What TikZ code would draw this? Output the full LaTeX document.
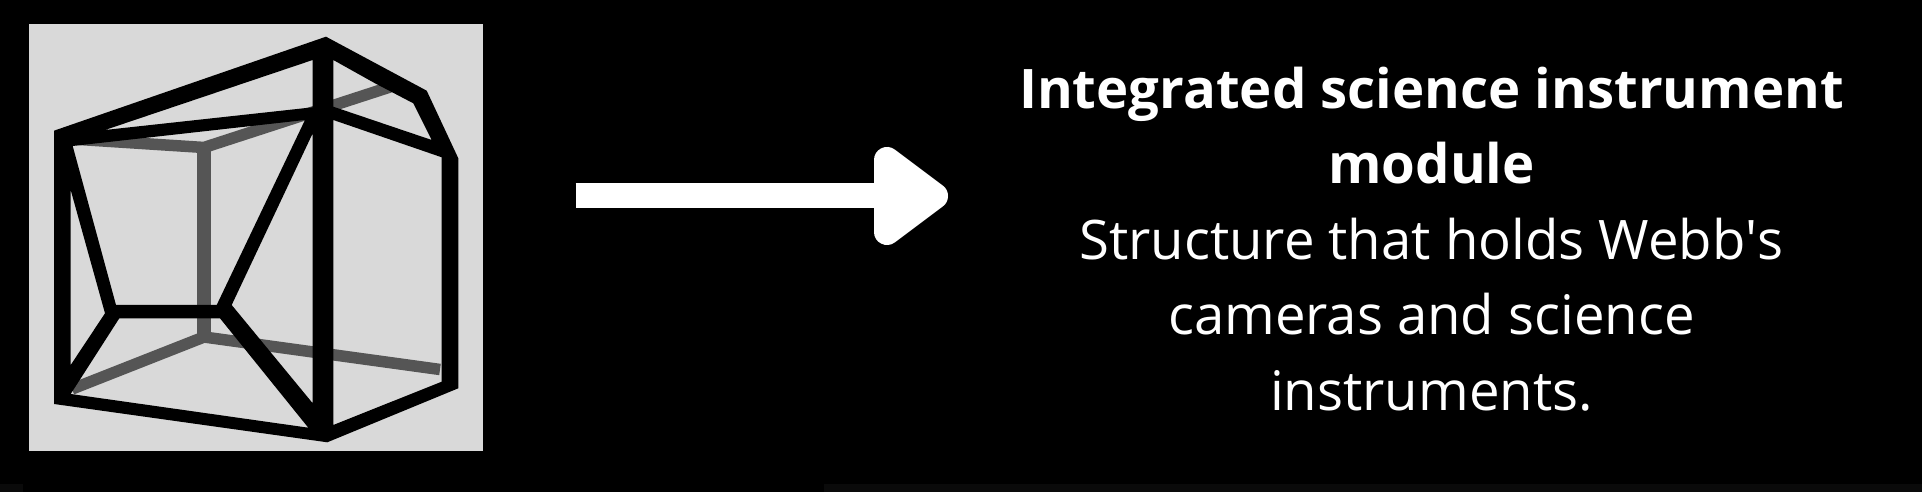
\documentclass[tikz,border=0pt]{standalone}
\usepackage{fontspec}
\setmainfont{Open Sans}
\definecolor{panelgray}{HTML}{D9D9D9}
\definecolor{rearbar}{HTML}{555555}
\definecolor{stripgray}{HTML}{0A0A0A}
\tikzset{
  rearstrut/.style={draw=rearbar, line width=0.115cm},
  arrowshaft/.style={draw=white, line width=0.25cm},
  arrowhead/.style={fill=white, draw=white, line width=0.26cm, line join=round},
  caption/.style={text=white, align=center, inner sep=0pt, font=\fontsize{15.5}{21.5}\selectfont}
}
\begin{document}
\begin{tikzpicture}[x=0.01cm,y=-0.01cm]
  \useasboundingbox (0,0) rectangle (1922,492);
  \fill[black] (0,0) rectangle (1922,492);
  \fill[stripgray] (0,484) rectangle (23,492);
  \fill[stripgray] (824,484) rectangle (1922,492);
  % panel
  \fill[panelgray] (28.5,24.5) rectangle (482.5,451);
  % rear edges
  \draw[rearstrut, line join=miter] (72,139) -- (204,147.5) -- (390,87);
  \draw[rearstrut, line width=0.14cm] (204,147.5) -- (204,337);
  \draw[rearstrut] (72,389) -- (204,337) -- (440,369.5);
  % front frame, the holes are cut out even-odd
  \fill[black, even odd rule]
    (54,130.7) -- (326,36.7) -- (426.7,90.7) -- (458.3,158.3) -- (458.3,388.3) -- (327.3,442.3) -- (54,404) -- cycle
    (105,130) -- (312.7,60) -- (312.7,107.3) -- cycle
    (333.3,60) -- (375,83.3) -- (413.3,103.3) -- (431.7,140) -- (333.3,106.7) -- cycle
    (72.7,146) -- (305,120) -- (216.7,305) -- (116,305) -- cycle
    (312.7,133.3) -- (312.7,403.3) -- (231.7,305) -- cycle
    (333.3,120) -- (441.7,157.3) -- (441.7,381.7) -- (333.3,425) -- cycle
    (70.7,190) -- (105,313.3) -- (70.7,365) -- cycle
    (119.3,318.3) -- (220,318.3) -- (308.3,427.7) -- (70.7,394) -- cycle;
  % arrow
  \coordinate (shaftstart) at (575.7,196);
  \coordinate (shaftend) at (880,196);
  \draw[arrowshaft] (shaftstart) -- (shaftend);
  \fill[arrowhead] (887,160) -- (935,196) -- (887,232) -- cycle;
  % caption
  \node[caption] (caption) at (1431.5,239) {\textbf{Integrated science instrument}\\ \textbf{module}\\ Structure that holds Webb\textquotesingle s\\ cameras and science\\ instruments.};
\end{tikzpicture}
\end{document}
